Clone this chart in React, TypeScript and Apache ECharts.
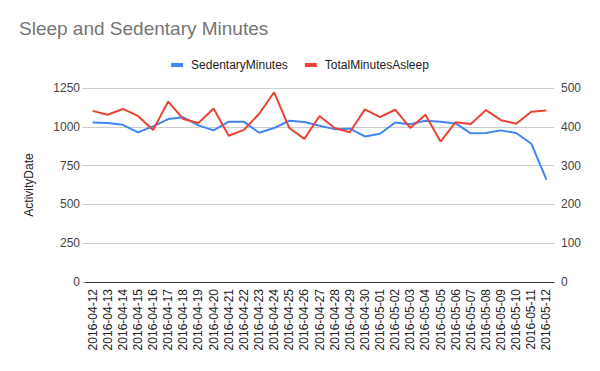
import React, { useEffect, useRef } from "react";
import * as echarts from "echarts";

const dates = [
  "2016-04-12","2016-04-13","2016-04-14","2016-04-15","2016-04-16","2016-04-17","2016-04-18","2016-04-19","2016-04-20","2016-04-21","2016-04-22","2016-04-23","2016-04-24","2016-04-25","2016-04-26","2016-04-27","2016-04-28","2016-04-29","2016-04-30","2016-05-01","2016-05-02","2016-05-03","2016-05-04","2016-05-05","2016-05-06","2016-05-07","2016-05-08","2016-05-09","2016-05-10","2016-05-11","2016-05-12",
];

const sedentaryMinutes = [
  1028, 1024, 1013, 964, 1003, 1050, 1061, 1009, 977, 1033, 1033, 962, 992, 1039, 1031, 1007, 985, 988, 938, 955, 1028, 1016, 1039, 1033, 1022, 958, 960, 977, 960, 891, 659,
];

const totalMinutesAsleep = [
  441, 431, 446, 428, 392, 465, 420, 410, 447, 377, 392, 433, 489, 397, 369, 428, 397, 386, 445, 425, 444, 397, 431, 362, 412, 407, 443, 417, 408, 439, 442,
];

const FONT = "Liberation Sans, Arial, sans-serif";

export default function App() {
  const ref = useRef<HTMLDivElement>(null);
  useEffect(() => {
    if (!ref.current) return;
    const chart = echarts.init(ref.current, null, { renderer: "svg" });
    chart.setOption({
      animation: false,
      backgroundColor: "#ffffff",
      textStyle: { fontFamily: FONT },
      title: {
        text: "Sleep and Sedentary Minutes",
        left: 14,
        top: 14,
        textStyle: { fontFamily: FONT, fontSize: 19, fontWeight: "normal", color: "#757575" },
      },
      legend: {
        top: 54,
        left: "center",
        itemWidth: 12,
        itemHeight: 4,
        itemGap: 17,
        icon: "rect",
        textStyle: { fontFamily: FONT, fontSize: 12, color: "#222", padding: [0, 0, 0, 3] },
        data: ["SedentaryMinutes", "TotalMinutesAsleep"],
      },
      grid: { left: 85, right: 46, top: 88, bottom: 89, containLabel: false },
      xAxis: {
        type: "category",
        data: dates,
        boundaryGap: true,
        axisLine: { lineStyle: { color: "#333", width: 1 } },
        axisTick: { show: false },
        axisLabel: { rotate: 90, interval: 0, fontFamily: FONT, fontSize: 12, color: "#222", margin: 7 },
      },
      yAxis: [
        {
          type: "value",
          min: 0,
          max: 1250,
          interval: 250,
          name: "ActivityDate",
          nameLocation: "middle",
          nameGap: 50,
          nameTextStyle: { fontFamily: FONT, fontSize: 12, color: "#222" },
          axisLine: { show: false },
          axisTick: { show: true, length: 3, lineStyle: { color: "#cccccc" } },
          axisLabel: { fontFamily: FONT, fontSize: 12, color: "#444", margin: 5, formatter: (v: number) => String(v) },
          splitLine: { lineStyle: { color: "#cccccc", width: 1 } },
        },
        {
          type: "value",
          min: 0,
          max: 500,
          interval: 100,
          position: "right",
          axisLine: { show: false },
          axisTick: { show: false },
          axisLabel: { fontFamily: FONT, fontSize: 12, color: "#444", margin: 7, formatter: (v: number) => String(v) },
          splitLine: { show: false },
        },
      ],
      series: [
        {
          name: "SedentaryMinutes",
          type: "line",
          yAxisIndex: 0,
          data: sedentaryMinutes,
          showSymbol: false,
          symbol: "none",
          lineStyle: { color: "#4285f4", width: 2 },
          itemStyle: { color: "#4285f4" },
        },
        {
          name: "TotalMinutesAsleep",
          type: "line",
          yAxisIndex: 1,
          data: totalMinutesAsleep,
          showSymbol: false,
          symbol: "none",
          lineStyle: { color: "#ea4335", width: 2 },
          itemStyle: { color: "#ea4335" },
        },
      ],
    });
    return () => chart.dispose();
  }, []);
  return <div ref={ref} style={{ width: 600, height: 371, position: "absolute", left: 0, top: 0 }} />;
}
